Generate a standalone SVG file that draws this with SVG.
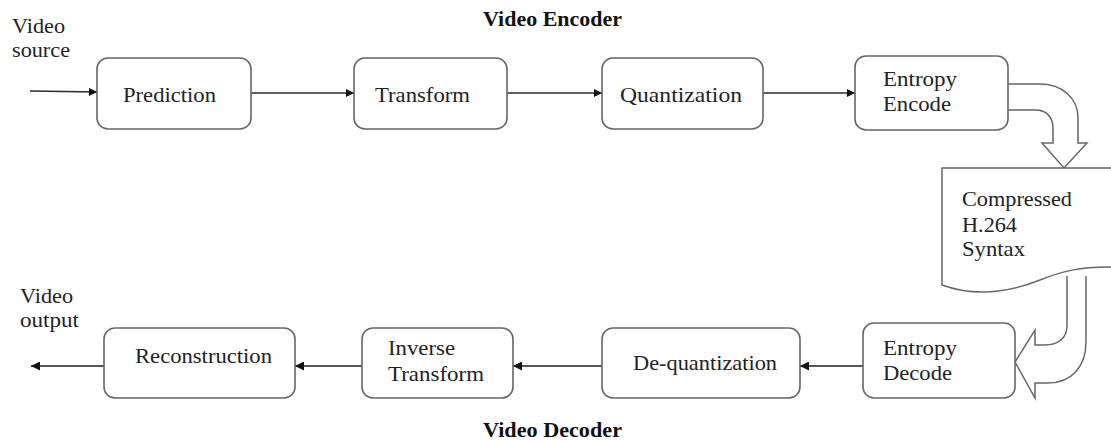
<svg xmlns="http://www.w3.org/2000/svg" width="1111" height="441" viewBox="0 0 1111 441">
  <style>
    .box { fill: #ffffff; stroke: #666666; stroke-width: 1.6; }
    .lbl { font-family: "Liberation Serif", "Times New Roman", serif; font-size: 21px; fill: #222222; }
    .ttl { font-family: "Liberation Serif", "Times New Roman", serif; font-size: 20px; font-weight: bold; fill: #111111; }
    .fwd { stroke: #2a2a2a; stroke-width: 1.4; fill: none; marker-end: url(#head); }
    .back { stroke: #555555; stroke-width: 2.2; fill: none; marker-end: url(#head2); }
    .block { fill: #ffffff; stroke: #666666; stroke-width: 1.5; stroke-linejoin: miter; }
  </style>
  <defs>
    <marker id="head" viewBox="0 0 10 10" refX="10" refY="5" markerWidth="10" markerHeight="8" markerUnits="userSpaceOnUse" orient="auto">
      <path d="M0,0 L10,5 L0,10 Z" fill="#111111"/>
    </marker>
    <marker id="head2" viewBox="0 0 10 10" refX="10" refY="5" markerWidth="11" markerHeight="9" markerUnits="userSpaceOnUse" orient="auto">
      <path d="M0,0 L10,5 L0,10 Z" fill="#111111"/>
    </marker>
  </defs>

  <rect width="1111" height="441" fill="#ffffff"/>

  <!-- section titles and free labels -->
  <text class="ttl" x="483" y="26" textLength="139" lengthAdjust="spacingAndGlyphs">Video Encoder</text>
  <text class="ttl" x="483" y="437" textLength="139" lengthAdjust="spacingAndGlyphs">Video Decoder</text>
  <text class="lbl" x="12" y="33" textLength="53" lengthAdjust="spacingAndGlyphs">Video</text>
  <text class="lbl" x="12" y="57" textLength="58" lengthAdjust="spacingAndGlyphs">source</text>
  <text class="lbl" x="20" y="303" textLength="53" lengthAdjust="spacingAndGlyphs">Video</text>
  <text class="lbl" x="20" y="327" textLength="59" lengthAdjust="spacingAndGlyphs">output</text>

  <!-- connectors -->
  <g id="connectors">
    <line class="fwd" x1="30" y1="91" x2="97" y2="92"/>
    <line class="fwd" x1="251" y1="93" x2="354" y2="93"/>
    <line class="fwd" x1="507" y1="93" x2="602" y2="93"/>
    <line class="fwd" x1="763" y1="93" x2="855" y2="93"/>
    <line class="back" x1="863" y1="366" x2="800" y2="366"/>
    <line class="back" x1="602" y1="366" x2="513" y2="366"/>
    <line class="back" x1="362" y1="366" x2="295" y2="366"/>
    <line class="back" x1="104" y1="366" x2="31" y2="366"/>
    <!-- block arrow from the encoder down to the bitstream -->
    <path class="block" d="M1008,84 L1040,84 C1062,84 1078,98 1078,118 L1078,143 L1087,143 L1064,168 L1042,143 L1053,143 L1053,128 C1053,117 1046,110 1036,110 L1008,110"/>
    <!-- block arrow from the bitstream into the decoder -->
    <path class="block" d="M1067,276 L1067,326 C1067,338 1058,345 1045,345 L1035,345 L1035,330 L1015,362 L1035,398 L1035,383 L1048,383 C1072,383 1086,366 1086,342 L1086,276"/>
  </g>

  <!-- encoder chain -->
  <g id="prediction">
    <rect class="box" x="97" y="58" width="154" height="71" rx="11"/>
    <text class="lbl" x="123" y="102" textLength="93" lengthAdjust="spacingAndGlyphs">Prediction</text>
  </g>
  <g id="transform">
    <rect class="box" x="354" y="58" width="153" height="71" rx="11"/>
    <text class="lbl" x="375" y="102" textLength="95" lengthAdjust="spacingAndGlyphs">Transform</text>
  </g>
  <g id="quantization">
    <rect class="box" x="602" y="58" width="161" height="71" rx="11"/>
    <text class="lbl" x="620" y="102" textLength="122" lengthAdjust="spacingAndGlyphs">Quantization</text>
  </g>
  <g id="entropy-encode">
    <rect class="box" x="855" y="56" width="153" height="74" rx="11"/>
    <text class="lbl" x="883" y="86" textLength="74" lengthAdjust="spacingAndGlyphs">Entropy</text>
    <text class="lbl" x="883" y="111" textLength="68" lengthAdjust="spacingAndGlyphs">Encode</text>
  </g>

  <!-- compressed bitstream (document shape running off the right edge) -->
  <g id="bitstream">
    <path class="block" d="M942,168 L1115,168 L1115,267 C1080,266 1060,272 1040,280 C1010,292 975,297 942,285 Z"/>
    <text class="lbl" x="962" y="206" textLength="110" lengthAdjust="spacingAndGlyphs">Compressed</text>
    <text class="lbl" x="962" y="232" textLength="55" lengthAdjust="spacingAndGlyphs">H.264</text>
    <text class="lbl" x="962" y="256" textLength="63" lengthAdjust="spacingAndGlyphs">Syntax</text>
  </g>

  <!-- decoder chain -->
  <g id="entropy-decode">
    <rect class="box" x="863" y="323" width="152" height="75" rx="11"/>
    <text class="lbl" x="883" y="355" textLength="74" lengthAdjust="spacingAndGlyphs">Entropy</text>
    <text class="lbl" x="883" y="380" textLength="69" lengthAdjust="spacingAndGlyphs">Decode</text>
  </g>
  <g id="dequantization">
    <rect class="box" x="602" y="328" width="198" height="70" rx="11"/>
    <text class="lbl" x="633" y="370" textLength="144" lengthAdjust="spacingAndGlyphs">De-quantization</text>
  </g>
  <g id="inverse-transform">
    <rect class="box" x="362" y="328" width="151" height="70" rx="11"/>
    <text class="lbl" x="388" y="355" textLength="67" lengthAdjust="spacingAndGlyphs">Inverse</text>
    <text class="lbl" x="388" y="381" textLength="96" lengthAdjust="spacingAndGlyphs">Transform</text>
  </g>
  <g id="reconstruction">
    <rect class="box" x="104" y="328" width="191" height="70" rx="11"/>
    <text class="lbl" x="135" y="363" textLength="137" lengthAdjust="spacingAndGlyphs">Reconstruction</text>
  </g>
</svg>
